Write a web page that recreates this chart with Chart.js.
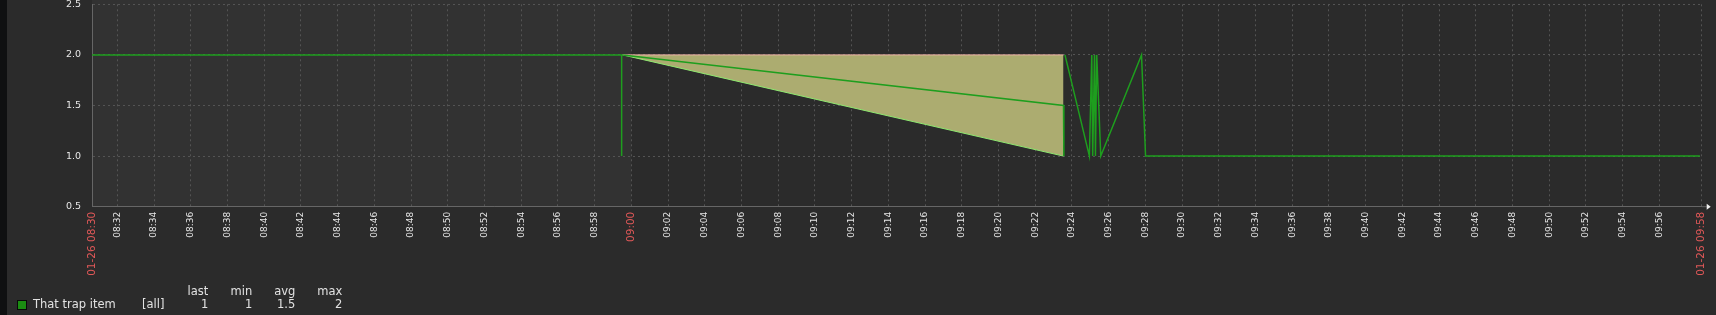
<!DOCTYPE html>
<html>
<head>
<meta charset="utf-8">
<script src="https://cdn.jsdelivr.net/npm/chart.js@4.4.1/dist/chart.umd.min.js"></script>
<style>
  html, body { margin: 0; padding: 0; background: #2b2b2b; }
  #wrap { position: relative; width: 1716px; height: 315px; overflow: hidden; }
  #strip { position: absolute; left: 0; top: 0; width: 7px; height: 315px; background: #0f1011; }
  canvas { position: absolute; left: 0; top: 0; }
  .lg { position: absolute; font-family: 'DejaVu Sans', sans-serif; font-size: 11.5px; color: #e2e2e2; line-height: 14px; white-space: nowrap; }
  .r { text-align: right; }
  #swatch { position: absolute; left: 17px; top: 300px; width: 8px; height: 8px; background: #1b8d12; border: 1px solid #0a0a0a; }
</style>
</head>
<body>
<div id="wrap">
  <div id="strip"></div>
  <canvas id="trapChart" width="1716" height="315"></canvas>
  <div id="legend"></div>
</div>
<script>
// time values are minutes after 08:00 on 01-26
const dateLabel = '01-26';
const startMin = 30.617;   // 08:30:37
const endMin = 118.306;    // 09:58:18
const shadeEnd = 60;       // lighter band up to 09:00

// avg line (null breaks the line)
const avgTimes  = [30.62, 59.47, 59.47, 59.49, 59.52, 83.54, 83.56, 83.59, 83.62, 84.95, 85.08, 85.13, 85.23, 85.28, 85.35, 85.57, 87.79, 88.01, 118.21];
const avgValues = [2,     2,     1,     null,  2,     1.5,   1,     null,  2,     1,     2,     1,     2,     1,     2,     1,     2,     1,     1];

// max / min envelope over the gap
const maxTimes  = [59.52, 83.54];
const maxValues = [2, 2];
const minTimes  = [59.52, 83.54];
const minValues = [2, 1];

const yTicks = [0.5, 1.0, 1.5, 2.0, 2.5];

const legendHeaders = ['last', 'min', 'avg', 'max'];
const legendStats = ['1', '1', '1.5', '2'];
const itemName = 'That trap item';
const itemFunc = '[all]';

const xTicks = [startMin];
for (let m = 32; m <= 116; m += 2) xTicks.push(m);
xTicks.push(endMin);

function pad(n) { return (n < 10 ? '0' : '') + n; }
function fmtTime(m) {
    const t = Math.floor(m);
    return pad(8 + Math.floor(t / 60)) + ':' + pad(t % 60);
}
function isEdge(v) { return v === startMin || v === endMin; }
function isRed(v) { return isEdge(v) || v === 60; }

function toPoints(xs, ys) {
    return xs.map((x, i) => ({ x: x, y: ys[i] }));
}

// keep the plot box fixed, no automatic label padding
function noPadding(scale) {
    scale.paddingTop = 0;
    scale.paddingBottom = 0;
    scale.paddingLeft = 0;
    scale.paddingRight = 0;
}

const red = '#e05858';

const bandPlugin = {
    id: 'band',
    beforeDraw(chart) {
        const { ctx, chartArea, scales } = chart;
        const x1 = scales.x.getPixelForValue(startMin);
        const x2 = scales.x.getPixelForValue(shadeEnd);
        ctx.save();
        ctx.fillStyle = '#323232';
        ctx.fillRect(x1, 0, x2 - x1, chartArea.bottom);
        ctx.restore();
    },
    afterDraw(chart) {
        // small arrow at the end of the time axis
        const { ctx, chartArea } = chart;
        const x = chartArea.right + 5, y = chartArea.bottom;
        ctx.save();
        ctx.strokeStyle = '#666666';
        ctx.beginPath();
        ctx.moveTo(chartArea.right, y);
        ctx.lineTo(x, y);
        ctx.stroke();
        ctx.fillStyle = '#f0f0f0';
        ctx.beginPath();
        ctx.moveTo(x, y - 3);
        ctx.lineTo(x + 4, y);
        ctx.lineTo(x, y + 3);
        ctx.closePath();
        ctx.fill();
        ctx.restore();
    }
};

const ctx = document.getElementById('trapChart').getContext('2d');

new Chart(ctx, {
    type: 'line',
    data: {
        datasets: [{
            label: 'avg',
            data: toPoints(avgTimes, avgValues),
            borderColor: '#1e9e1e',
            borderWidth: 1.5,
            pointRadius: 0,
            tension: 0,
            fill: false
        }, {
            label: 'max',
            data: toPoints(maxTimes, maxValues),
            borderColor: '#f2b6a8',
            borderWidth: 1,
            pointRadius: 0,
            tension: 0,
            fill: false
        }, {
            label: 'min',
            data: toPoints(minTimes, minValues),
            borderColor: '#8ee870',
            backgroundColor: '#acac70',
            borderWidth: 1,
            pointRadius: 0,
            tension: 0,
            fill: 1
        }]
    },
    options: {
        responsive: false,
        animation: false,
        devicePixelRatio: 1,
        layout: { autoPadding: false, padding: { left: 0, right: 14.3, top: 4.3, bottom: 0 } },
        plugins: {
            legend: { display: false },
            tooltip: { enabled: false }
        },
        scales: {
            x: {
                type: 'linear',
                min: startMin,
                max: endMin,
                afterBuildTicks(scale) {
                    scale.ticks = xTicks.map(v => ({ value: v }));
                },
                afterFit(scale) { scale.height = 108.3; noPadding(scale); },
                grid: { color: '#545454', drawTicks: false, lineWidth: 1 },
                border: { display: true, color: '#666666', dash: [2, 3] },
                ticks: {
                    autoSkip: false,
                    maxRotation: 90,
                    minRotation: 90,
                    padding: 5,
                    color: c => (c.tick && isRed(c.tick.value)) ? red : '#e6e6e6',
                    font: c => ({ family: 'DejaVu Sans', size: (c.tick && isRed(c.tick.value)) ? 10.5 : 9 }),
                    callback: v => isEdge(v) ? dateLabel + ' ' + fmtTime(v) : fmtTime(v)
                }
            },
            y: {
                min: 0.5,
                max: 2.5,
                afterBuildTicks(scale) {
                    scale.ticks = yTicks.map(v => ({ value: v }));
                },
                afterFit(scale) { scale.width = 92; noPadding(scale); },
                grid: { color: '#545454', drawTicks: false, lineWidth: 1 },
                border: { display: true, color: '#666666', dash: [2, 3] },
                ticks: {
                    padding: 11,
                    color: '#e6e6e6',
                    font: { family: 'DejaVu Sans', size: 9.5 },
                    callback: v => v.toFixed(1)
                }
            }
        }
    },
    plugins: [bandPlugin]
});

// legend below the plot
const legend = document.getElementById('legend');
const colRight = [208.3, 252.3, 295.3, 342.3];
let html = '<div id="swatch"></div>';
html += '<div class="lg" style="left:33px;top:297px">' + itemName + '</div>';
html += '<div class="lg" style="left:142px;top:297px">' + itemFunc + '</div>';
legendHeaders.forEach((h, i) => {
    html += '<div class="lg r" style="left:' + (colRight[i] - 40) + 'px;width:40px;top:284px">' + h + '</div>';
    html += '<div class="lg r" style="left:' + (colRight[i] - 40) + 'px;width:40px;top:297px">' + legendStats[i] + '</div>';
});
legend.innerHTML = html;
</script>
</body>
</html>
